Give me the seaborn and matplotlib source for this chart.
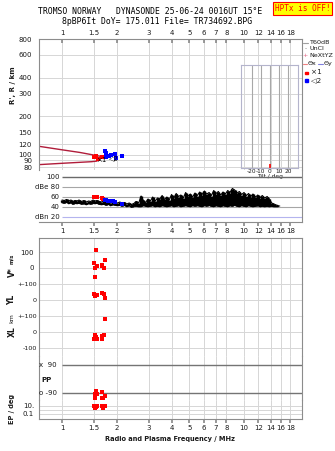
import matplotlib
matplotlib.use('Agg')
import matplotlib.pyplot as plt
from matplotlib.ticker import NullLocator
import seaborn as sns
import numpy as np

W, H = 335, 451

# ---------------- data ----------------
freq_ticks = [1, 1.5, 2, 3, 4, 5, 6, 7, 8, 10, 12, 14, 16, 18]
freq_labels = ['1', '1.5', '2', '3', '4', '5', '6', '7', '8', '10', '12', '14', '16', '18']
height_ticks = [80, 90, 100, 120, 150, 200, 300, 400, 600, 800]

# model traces (virtual height curves)
model_up_f = [0.75, 1.0, 1.25, 1.45, 1.62]
model_up_r = [116, 109, 104, 100, 97]
model_lo_f = [0.75, 1.0, 1.25, 1.45, 1.56]
model_lo_r = [83.5, 85.5, 87, 88, 89]

# echoes in range panel
echo1_f = [1.50, 1.52, 1.54, 1.57, 1.66, 1.70]
echo1_r = [96, 95, 97, 93, 96, 95]
echo2_f = [1.72, 1.74, 1.75, 1.82, 1.87, 1.95, 1.98, 2.13]
echo2_r = [106, 102, 96, 98, 100, 101, 94, 98]

# echo amplitudes (dBe)
amp1_f = [1.50, 1.52, 1.55, 1.66, 1.67]
amp1_db = [60, 61, 60, 58, 56]
amp2_f = [1.72, 1.75, 1.80, 1.85, 1.90, 1.96, 2.14]
amp2_db = [54, 53, 51, 52, 52, 50, 46]

# noise band
noise_f = [1.00, 1.03, 1.06, 1.09, 1.12, 1.15, 1.18, 1.21, 1.24, 1.28,
           1.32, 1.36, 1.40, 1.44, 1.48, 1.52, 1.56, 1.60, 1.65, 1.70,
           1.75, 1.80, 1.85, 1.90, 1.96, 2.02, 2.08, 2.14, 2.20, 2.27,
           2.34, 2.41, 2.48, 2.56, 2.64, 2.72, 2.80, 2.88, 2.97, 3.06,
           3.15, 3.25, 3.35, 3.45, 3.55, 3.66, 3.77, 3.88, 4.00, 4.12,
           4.24, 4.37, 4.50, 4.64, 4.78, 4.92, 5.07, 5.22, 5.38, 5.54,
           5.71, 5.88, 6.06, 6.24, 6.43, 6.62, 6.82, 7.02, 7.23, 7.45,
           7.67, 7.90, 8.14, 8.38, 8.63, 8.89, 9.16, 9.43, 9.71, 10.0,
           10.3, 10.6, 10.9, 11.2, 11.6, 11.9, 12.3, 12.6, 13.0, 13.4,
           13.8, 14.2, 14.6, 15.0, 15.4]
noise_hi = [54, 53, 55, 52, 54, 51, 53, 52, 54, 51,
            53, 50, 52, 51, 54, 52, 53, 51, 50, 52,
            49, 51, 48, 50, 49, 48, 50, 47, 49, 46,
            48, 45, 47, 51, 48, 62, 53, 49, 56, 52,
            60, 52, 58, 56, 63, 55, 60, 54, 65, 58,
            67, 61, 64, 58, 69, 62, 66, 60, 68, 63,
            70, 65, 72, 66, 69, 63, 73, 67, 71, 64,
            70, 66, 73, 69, 77, 74, 68, 71, 65, 69,
            63, 67, 61, 66, 60, 64, 59, 63, 58, 61,
            56, 48, 46, 44, 43]
noise_lo = [49, 48, 50, 47, 49, 46, 48, 47, 48, 46,
            47, 45, 47, 46, 48, 47, 48, 46, 45, 46,
            44, 46, 43, 45, 44, 43, 44, 42, 44, 41,
            43, 40, 42, 42, 41, 41, 43, 42, 41, 42,
            43, 41, 42, 41, 43, 42, 41, 42, 43, 41,
            42, 43, 41, 42, 43, 42, 41, 43, 42, 43,
            42, 41, 43, 42, 44, 42, 41, 43, 42, 41,
            43, 42, 41, 43, 42, 44, 42, 41, 43, 42,
            41, 43, 42, 41, 42, 43, 41, 42, 41, 42,
            41, 42, 41, 41, 41]

tilt_ticks = [-20, -10, 0, 10, 20]
tilt_values = [0]

# lower panels
vel_f = [1.53, 1.50, 1.72, 1.55, 1.52, 1.65, 1.66, 1.70, 1.51]
vel = [112, 31, 50, 12, 2, 19, 12, 2, -56]
yl_f = [1.50, 1.52, 1.55, 1.66, 1.70, 1.72]
yl = [37, 27, 31, 44, 37, 15]
xl_f = [1.51, 1.54, 1.50, 1.55, 1.65, 1.70, 1.65, 1.72]
xl = [-17, -29, -42, -42, -27, -19, -42, 83]
pp_f = [1.53, 1.65, 1.51, 1.55, 1.73, 1.52, 1.65, 1.68]
pp = [-75, -82, -96, -96, -107, -120, -120, -120]
ep_f = [1.50, 1.53, 1.56, 1.65, 1.68, 1.72, 1.52, 1.67]
ep = [12, 7, 12, 12, 7, 12, 4, 4]

# ---------------- style ----------------
sns.set_theme(style='white')
plt.rcParams['font.family'] = ['DejaVu Sans']
plt.rcParams['axes.linewidth'] = 0.8

GRID = '#d6d6d6'
FRAME = '#8c8c8c'
TXT = '#1a1a1a'
RED = '#ff0000'
BLUE = '#0000ff'

fig = plt.figure(figsize=(W / 100, H / 100), dpi=100)
fig.patch.set_facecolor('white')


def box(x0, y0, x1, y1):
    return [x0 / W, 1 - y1 / H, (x1 - x0) / W, (y1 - y0) / H]


FMIN, FMAX = 10 ** (-23 / 182), 10 ** (240 / 182)


def setup_x(a):
    a.set_xscale('log')
    a.set_xlim(FMIN, FMAX)
    a.set_xticks(freq_ticks)
    a.set_xticklabels(freq_labels)
    a.xaxis.set_minor_locator(NullLocator())


# ---------------- top panel ----------------
ax = fig.add_axes(box(39, 39, 302, 170))
setup_x(ax)
ax.set_yscale('log')
ax.set_ylim(10 ** (np.log10(800) - 131 / 128), 800)
ax.set_yticks(height_ticks)
ax.set_yticklabels([str(h) for h in height_ticks])
ax.yaxis.set_minor_locator(NullLocator())
ax.xaxis.tick_top()
ax.tick_params(axis='x', which='major', direction='in', length=3, color=FRAME,
               labelsize=5, pad=2, labelcolor=TXT)
ax.tick_params(axis='y', length=2, color=FRAME, labelsize=5, pad=3, labelcolor=TXT)
ax.grid(True, which='major', color=GRID, lw=0.7)
ax.spines['bottom'].set_visible(False)
for s in ['top', 'left', 'right']:
    ax.spines[s].set_color(FRAME)
ax.set_facecolor('none')

sns.lineplot(x=model_up_f, y=model_up_r, ax=ax, color='#b01c3a', lw=1, sort=False)
sns.lineplot(x=model_lo_f, y=model_lo_r, ax=ax, color='#b01c3a', lw=1, sort=False)
sns.scatterplot(x=echo1_f, y=echo1_r, ax=ax, marker='s', s=6, color=RED, linewidth=0, zorder=5)
sns.scatterplot(x=echo2_f, y=echo2_r, ax=ax, marker='s', s=6, color=BLUE, linewidth=0, zorder=5)
ax.text(1.64, 91, '×1', fontsize=5, color='black', ha='center', va='center', zorder=6)
ax.text(1.93, 94, '◁2', fontsize=5, color='black', ha='center', va='center', zorder=6)

fig.text(13 / W, 1 - 85 / H, "R', R / km", rotation=90, fontsize=5, fontweight='bold',
         ha='center', va='center', color=TXT)

# ---------------- tilt inset ----------------
axt = fig.add_axes(box(241, 65, 298, 168))
axt.set_xlim(-32, 31)
axt.set_ylim(0, 1)
axt.set_facecolor('none')
for s in axt.spines.values():
    s.set_color('#b4b4cc')
    s.set_linewidth(0.8)
axt.vlines(tilt_ticks, 0, 1, color='#a8a8a8', lw=0.8)
axt.vlines(tilt_values, 0, 0.04, color=RED, lw=1.2)
axt.set_xticks(tilt_ticks)
axt.set_xticklabels(['-20', '-10', '0', '10', '20'])
axt.set_yticks([])
axt.tick_params(axis='x', length=0, labelsize=4.2, pad=0.5, labelcolor=TXT)
axt.set_xlabel('Tilt / deg', fontsize=4.2, labelpad=0, color=TXT)

# ---------------- dBe panel ----------------
axd = fig.add_axes(box(39, 170, 302, 222))
setup_x(axd)
axd.set_ylim(10, 114)
axd.set_yticks([])
axd.tick_params(axis='x', which='major', direction='out', length=3, color=FRAME,
                labelsize=5, pad=1.5, labelcolor=TXT, bottom=True)
for s in ['top', 'left']:
    axd.spines[s].set_visible(False)
for s in ['bottom', 'right']:
    axd.spines[s].set_color(FRAME)
axd.set_facecolor('none')
axd.hlines([100], 1.0, FMAX, color='#6a6a6a', lw=1)
axd.hlines([80, 60, 40], 1.0, FMAX, color='#a6a6a6', lw=0.8)
axd.hlines([20], 1.0, FMAX, color='#b4b4ee', lw=0.8)
for v, lab in zip([100, 80, 60, 40, 20], ['100', 'dBe 80', '60', '40', 'dBn 20']):
    axd.text(0.975, v, lab, fontsize=5, ha='right', va='center', color=TXT)
axd.vlines(noise_f, noise_lo, noise_hi, color='black', lw=2.4, zorder=3)
sns.lineplot(x=noise_f, y=noise_lo, ax=axd, color='black', lw=1.2, zorder=3)
sns.lineplot(x=noise_f, y=noise_hi, ax=axd, color='black', lw=0.8, zorder=3)
sns.scatterplot(x=amp1_f, y=amp1_db, ax=axd, marker='s', s=7, color=RED, linewidth=0, zorder=5)
sns.scatterplot(x=amp2_f, y=amp2_db, ax=axd, marker='s', s=7, color=BLUE, linewidth=0, zorder=5)


# ---------------- lower panels ----------------
def lower_ax(y0, y1, ylim, logy=False):
    a = fig.add_axes(box(39, y0, 302, y1))
    setup_x(a)
    if logy:
        a.set_yscale('log')
        a.yaxis.set_minor_locator(NullLocator())
    a.set_ylim(*ylim)
    a.tick_params(axis='x', length=0, labelbottom=False)
    a.tick_params(axis='y', length=0, labelsize=5, pad=3.5, labelcolor=TXT)
    for s in ['top', 'bottom']:
        a.spines[s].set_visible(False)
    for s in ['left', 'right']:
        a.spines[s].set_color(FRAME)
    a.grid(True, which='major', color=GRID, lw=0.7)
    a.set_facecolor('none')
    return a


axv = lower_ax(238, 284, (-100, 187.5))
axv.spines['top'].set_visible(True)
axv.spines['top'].set_color(FRAME)
axv.set_yticks([100, 0])
axv.set_yticklabels(['100', '0'])
sns.scatterplot(x=vel_f, y=vel, ax=axv, marker='s', s=6, color=RED, linewidth=0, zorder=5)

axy = lower_ax(284, 316, (-100, 100))
axy.set_yticks([100, 0])
axy.set_yticklabels(['+-100', '0'])
axy.tick_params(axis='y', labelsize=4.6, pad=1.5)
sns.scatterplot(x=yl_f, y=yl, ax=axy, marker='s', s=6, color=RED, linewidth=0, zorder=5)

axx = lower_ax(316, 356, (-150, 100))
axx.set_yticks([100, 0, -100])
axx.set_yticklabels(['+-100', '0', '-100'])
axx.tick_params(axis='y', labelsize=4.6, pad=1.5)
sns.scatterplot(x=xl_f, y=xl, ax=axx, marker='s', s=6, color=RED, linewidth=0, zorder=5)

axp = lower_ax(356, 400, (-135, 147.9))
axp.set_yticks([])
axp.grid(True, axis='x', color=GRID, lw=0.7)
axp.hlines([90, -90], 1.0, FMAX, color='#747474', lw=1)
axp.text(0.939, 90, 'x  90', fontsize=5, ha='right', va='center', color=TXT)
axp.text(0.939, -90, 'o -90', fontsize=5, ha='right', va='center', color=TXT)
axp.text(0.822, -6, 'PP', fontsize=5, ha='center', va='center', color=TXT, fontweight='bold')
sns.scatterplot(x=pp_f, y=pp, ax=axp, marker='s', s=6, color=RED, linewidth=0, zorder=5)

axe = lower_ax(400, 419, (10 ** -2.25, 10 ** 2.5), logy=True)
axe.spines['bottom'].set_visible(True)
axe.spines['bottom'].set_color(FRAME)
axe.set_yticks([10, 1, 0.1])
axe.set_yticklabels(['10.', '', '0.1'])
axe.yaxis.set_minor_locator(NullLocator())
axe.tick_params(axis='x', which='major', direction='out', length=3, color=FRAME,
                labelsize=5, pad=1.5, labelcolor=TXT, labelbottom=True, bottom=True)
sns.scatterplot(x=ep_f, y=ep, ax=axe, marker='s', s=6, color=RED, linewidth=0, zorder=5)

# left rotated labels
fig.text(12 / W, 1 - 272 / H, 'V*', rotation=90, fontsize=5.5, fontweight='bold', ha='center', va='center', color=TXT)
fig.text(12 / W, 1 - 259 / H, 'm/s', rotation=90, fontsize=3.8, fontweight='bold', ha='center', va='center', color=TXT)
fig.text(12 / W, 1 - 300 / H, 'YL', rotation=90, fontsize=5.5, fontweight='bold', ha='center', va='center', color=TXT)
fig.text(12 / W, 1 - 318 / H, 'km', rotation=90, fontsize=4.5, ha='center', va='center', color=TXT)
fig.text(12 / W, 1 - 332 / H, 'XL', rotation=90, fontsize=5.5, fontweight='bold', ha='center', va='center', color=TXT)
fig.text(12 / W, 1 - 409 / H, 'EP / deg', rotation=90, fontsize=4.8, fontweight='bold', ha='center', va='center', color=TXT)

fig.text(170 / W, 1 - 439 / H, 'Radio and Plasma Frequency / MHz', fontsize=4.8,
         fontweight='bold', ha='center', va='center', color=TXT)

# ---------------- titles ----------------
fig.text(150 / W, 1 - 12 / H, 'TROMSO NORWAY   DYNASONDE 25-06-24 0016UT 15°E',
         family='DejaVu Sans Mono', fontsize=5.9, ha='center', va='center', color='black')
fig.text(157 / W, 1 - 21 / H, '8pBP6It DoY= 175.011 File= TR734692.BPG',
         family='DejaVu Sans Mono', fontsize=5.9, ha='center', va='center', color='black')
fig.text(302.5 / W, 1 - 8.5 / H, 'HPTx is OFF!', family='DejaVu Sans Mono', fontsize=5.6,
         ha='center', va='center', color=RED,
         bbox=dict(boxstyle='square,pad=0.25', facecolor='#ffff00', edgecolor=RED, lw=0.8))

# ---------------- legend ----------------
LFS = 4.6
def fy(y):
    return 1 - y / H

fig.lines.append(plt.Line2D([303 / W, 308 / W], [fy(42.5)] * 2, color='#a0a0a0', lw=0.8, transform=fig.transFigure))
fig.text(309 / W, fy(42.5), 'T60dB', fontsize=LFS, va='center', ha='left', color=TXT)
fig.text(305 / W, fy(48.5), '·', fontsize=LFS, va='center', ha='center', color=TXT)
fig.text(309 / W, fy(48.5), 'UnCl', fontsize=LFS, va='center', ha='left', color=TXT)
fig.text(305 / W, fy(55.3), '+', fontsize=LFS, va='center', ha='center', color='#e06080')
fig.text(309 / W, fy(55.3), 'NeXtYZ', fontsize=LFS, va='center', ha='left', color=TXT)
fig.lines.append(plt.Line2D([303 / W, 307 / W], [fy(63.5)] * 2, color='#f08080', lw=0.8, transform=fig.transFigure))
fig.text(308 / W, fy(63.5), 'Θx', fontsize=LFS, va='center', ha='left', color=TXT)
fig.lines.append(plt.Line2D([318 / W, 323 / W], [fy(63.5)] * 2, color='#8080e0', lw=0.8, transform=fig.transFigure))
fig.text(323.5 / W, fy(63.5), 'Θy', fontsize=LFS, va='center', ha='left', color=TXT)
fig.patches.append(plt.Rectangle((305 / W, fy(74)), 2.5 / W, 2.5 / H, color=RED, transform=fig.transFigure))
fig.text(311 / W, fy(72.5), '×1', fontsize=5.2, va='center', ha='left', color=TXT)
fig.patches.append(plt.Rectangle((305 / W, fy(81.5)), 2.5 / W, 2.5 / H, color=BLUE, transform=fig.transFigure))
fig.text(311 / W, fy(80.5), '◁2', fontsize=5.2, va='center', ha='left', color=TXT)

fig.savefig('out.png', dpi=100, facecolor='white')
